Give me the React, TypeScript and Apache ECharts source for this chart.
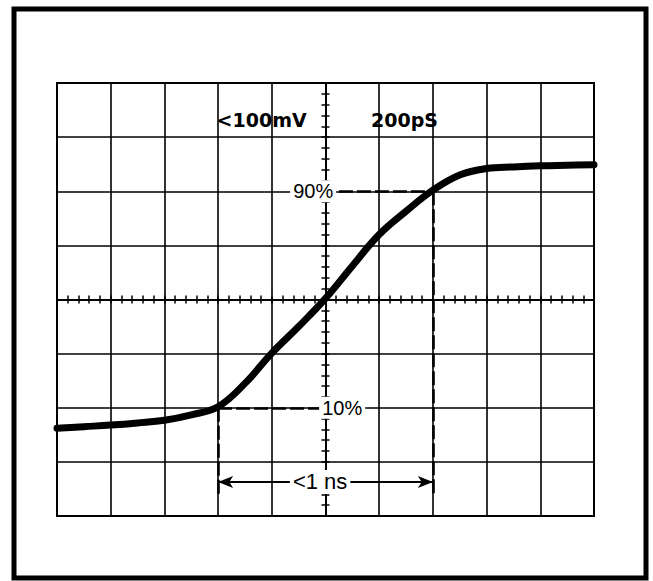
import React, { useEffect, useRef } from "react";
import * as echarts from "echarts";

// Trace (divisions, centre of graticule = 0,0)
const traceX = [-5, -4.5, -4, -3.5, -3, -2.5, -2, -1.5, -1, -0.5, 0, 0.5, 1, 1.5, 2, 2.5, 3, 3.5, 4, 4.5, 5];
const traceY = [-2.38, -2.35, -2.32, -2.28, -2.23, -2.13, -1.98, -1.55, -0.99, -0.5, 0.02, 0.62, 1.2, 1.63, 2.02, 2.3, 2.42, 2.45, 2.47, 2.48, 2.49];

// 10% / 90% levels
const levelLabels = ["90%", "10%"];
const levelLabelX = [-0.23, 0.31];
const levelY = [2, -2];
const levelCrossX = [2, -2];
const levelDashFrom = [0.25, -2];
const levelDashTo = [2, -0.05];

// rise-time span
const spanLabel = "<1 ns";
const spanLabelX = -0.1;
const spanY = -3.37;
const spanBottom = -3.6;
const spanLeftFrom = -0.62;
const spanRightFrom = 0.45;

// scope readouts
const readouts = ["<100mV", "200pS"];
const readoutX = [-1.19, 1.47];
const readoutY = 3.32;

export default function App() {
  const ref = useRef<HTMLDivElement>(null);
  useEffect(() => {
    if (!ref.current) return;
    const chart = echarts.init(ref.current, null, { renderer: "svg" });
    const black = "#000";
    const gridLine = { color: black, width: 1.6 };
    const dash = { color: black, width: 2.6, type: [14, 4] as any };
    const baseX = {
      type: "value" as const,
      min: -5,
      max: 5,
      interval: 1,
      axisLabel: { show: false },
      axisLine: { show: true, onZero: true, onZeroAxisIndex: 0, lineStyle: gridLine },
      axisTick: { show: true, length: 4, lineStyle: { color: black, width: 1.5 } },
      minorTick: { show: true, splitNumber: 5, length: 4, lineStyle: { color: black, width: 1.5 } },
    };
    const baseY = { ...baseX, min: -4, max: 4 };

    const markData: any[] = [];
    levelY.forEach((y, i) => {
      markData.push([
        { coord: [levelDashFrom[i], y], lineStyle: dash },
        { coord: [levelDashTo[i], y] },
      ]);
      markData.push([
        { coord: [levelCrossX[i], y], lineStyle: dash },
        { coord: [levelCrossX[i], spanBottom] },
      ]);
    });
    const arrowStyle = { color: black, width: 2.2, type: "solid" as const };
    markData.push([
      { coord: [spanLeftFrom, spanY], symbol: "none", lineStyle: arrowStyle },
      { coord: [levelCrossX[1], spanY], symbol: "arrow", symbolSize: [9, 15] },
    ]);
    markData.push([
      { coord: [spanRightFrom, spanY], symbol: "none", lineStyle: arrowStyle },
      { coord: [levelCrossX[0], spanY], symbol: "arrow", symbolSize: [9, 15] },
    ]);

    const labelData: any[] = [];
    levelLabels.forEach((t, i) => {
      labelData.push({ value: [levelLabelX[i], levelY[i]], name: t });
    });
    labelData.push({ value: [spanLabelX, spanY], name: spanLabel, label: { fontSize: 22 } });
    const readoutData = readouts.map((t, i) => ({ value: [readoutX[i], readoutY], name: t }));

    chart.setOption({
      animation: false,
      backgroundColor: "#fff",
      grid: { left: 57, top: 83, width: 537, height: 433, show: true, borderColor: black, borderWidth: 2 },
      xAxis: [
        { ...baseX, position: "bottom", splitLine: { show: true, lineStyle: gridLine } },
        { ...baseX, position: "top", splitLine: { show: false } },
      ],
      yAxis: [
        { ...baseY, position: "left", splitLine: { show: true, lineStyle: gridLine } },
        { ...baseY, position: "right", splitLine: { show: false } },
      ],
      graphic: [
        {
          type: "rect",
          silent: true,
          shape: { x: 14, y: 9, width: 632, height: 569 },
          style: { fill: "none", stroke: black, lineWidth: 5 },
        },
      ],
      series: [
        {
          type: "line",
          data: traceX.map((x, i) => [x, traceY[i]]),
          smooth: 0.4,
          symbol: "none",
          lineStyle: { color: black, width: 7, cap: "round" },
          z: 3,
          markLine: {
            silent: true,
            animation: false,
            symbol: "none",
            label: { show: false },
            lineStyle: dash,
            data: markData,
          },
        },
        {
          type: "scatter",
          symbolSize: 0,
          z: 6,
          itemStyle: { opacity: 1 },
          data: labelData,
          label: {
            show: true,
            position: "inside",
            formatter: "{b}",
            color: black,
            opacity: 1,
            textBorderWidth: 0,
            fontSize: 20,
            fontFamily: "Liberation Sans",
            backgroundColor: "#fff",
            padding: [1, 3],
          },
        },
        {
          type: "scatter",
          symbolSize: 0,
          z: 6,
          itemStyle: { opacity: 1 },
          data: readoutData,
          label: {
            show: true,
            position: "inside",
            formatter: "{b}",
            color: black,
            opacity: 1,
            textBorderWidth: 0,
            fontSize: 19,
            fontWeight: 900,
            fontFamily: "DejaVu Sans",
          },
        },
      ],
    });
    return () => chart.dispose();
  }, []);
  return (
    <div
      ref={ref}
      style={{ position: "absolute", left: 0, top: 0, width: 653, height: 581, background: "#fff" }}
    />
  );
}
